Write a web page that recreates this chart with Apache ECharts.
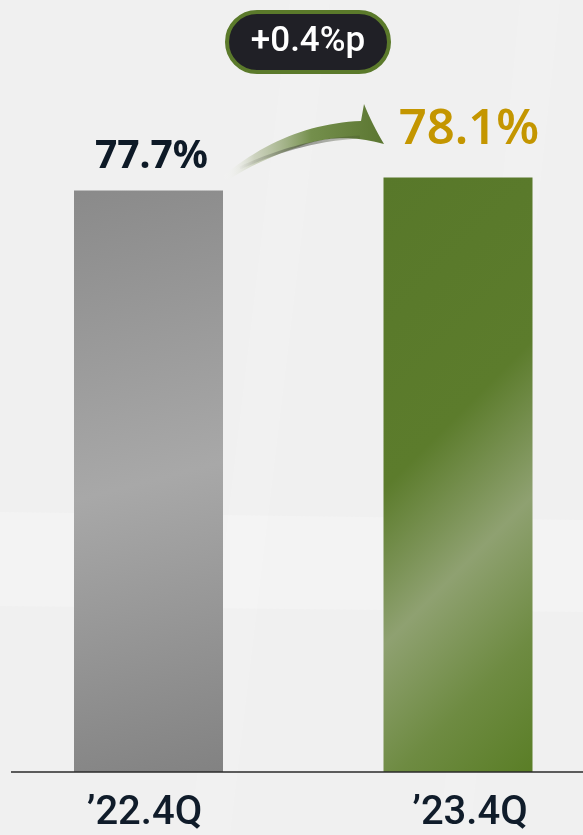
<!DOCTYPE html>
<html>
<head>
<meta charset="utf-8">
<script src="https://cdn.jsdelivr.net/npm/echarts@6/dist/echarts.min.js"></script>
<style>
html,body{margin:0;padding:0;background:#f0f0f0;}
#c{width:583px;height:835px;}
</style>
</head>
<body>
<div id="c"></div>
<script>
// ---- data ----
const categories = ['\u201922.4Q', '\u201923.4Q'];
const values = [77.7, 78.1];
const valueSuffix = '%';
const changeSuffix = '%p';

const chart = echarts.init(document.getElementById('c'), null, {renderer: 'canvas'});

const FONT = 'Noto Sans';
const FONT2 = 'Roboto';

const grayGrad = {
  type: 'linear', x: 0, y: 0, x2: 1, y2: 1,
  colorStops: [
    {offset: 0, color: '#8a8a8a'},
    {offset: 0.5, color: '#a8a8a8'},
    {offset: 1, color: '#828282'}
  ]
};
const greenGrad = {
  type: 'linear', global: true, x: 383, y: 177, x2: 755, y2: 549,
  colorStops: [
    {offset: 0, color: '#58782a'},
    {offset: 0.42, color: '#5c7c2c'},
    {offset: 0.63, color: '#8fa171'},
    {offset: 0.82, color: '#6e8b42'},
    {offset: 1, color: '#5a7e26'}
  ]
};

const labelStyles = [
  {fontSize: 39, fontWeight: 'bold', color: '#0e1a27', distance: 14, offset: [3, 0]},
  {fontSize: 49, fontWeight: 600, color: '#c49600', distance: 23, offset: [11, 0]}
];
const barColors = [grayGrad, greenGrad];
const axisRich = ['a', 'b'];

const diff = (values[1] - values[0]).toFixed(1);
const diffText = (diff >= 0 ? '+' : '') + diff + changeSuffix;

// quadratic bezier sampler for the decorative arrow outline
function quad(p0, p1, p2, n) {
  const pts = [];
  for (let k = 0; k <= n; k++) {
    const t = k / n, u = 1 - t;
    pts.push([u * u * p0[0] + 2 * u * t * p1[0] + t * t * p2[0],
              u * u * p0[1] + 2 * u * t * p1[1] + t * t * p2[1]]);
  }
  return pts;
}
const arrowPts = [].concat(
  quad([222, 177], [285, 124], [361, 121], 24),
  [[364, 104]],
  quad([364, 104], [372, 124], [384, 144], 8).slice(1),
  quad([384, 144], [338, 131], [298, 147], 10).slice(1),
  quad([298, 147], [255, 162], [228, 180], 10).slice(1)
);
const shadowPts = quad([240, 168], [300, 140], [360, 137], 24);

const option = {
  backgroundColor: '#f0f0f0',
  animation: false,
  grid: {left: -6.25, width: 619, top: 115, bottom: 63, containLabel: false, outerBoundsMode: 'none'},
  xAxis: {
    type: 'category',
    data: categories,
    axisLine: {show: false},
    axisTick: {show: false},
    axisLabel: {
      margin: 22,
      fontFamily: FONT2,
      fontSize: 40,
      color: '#101c2a',
      formatter: function (v, i) { return '{' + axisRich[i] + '|' + v + '}'; },
      rich: {
        a: {fontFamily: FONT2, fontSize: 40, color: '#101c2a', fontWeight: 500, padding: [0, 8, 0, 0]},
        b: {fontFamily: FONT2, fontSize: 40, color: '#101c2a', fontWeight: 500, padding: [0, 0, 0, 24]}
      }
    }
  },
  yAxis: {type: 'value', min: 60, max: 80, show: false},
  series: [{
    type: 'bar',
    barWidth: 149,
    z: 5,
    data: values.map((v, i) => ({
      value: v,
      itemStyle: {color: barColors[i]},
      label: {
        show: true,
        position: 'top',
        formatter: v.toFixed(1) + valueSuffix,
        fontFamily: FONT,
        fontSize: labelStyles[i].fontSize,
        fontWeight: labelStyles[i].fontWeight,
        color: labelStyles[i].color,
        distance: labelStyles[i].distance,
        offset: labelStyles[i].offset
      }
    }))
  }],
  graphic: [
    // subtle background bands
    {type: 'polygon', z: -10, silent: true, shape: {points: [[0, 512], [583, 520], [583, 612], [0, 606]]}, style: {fill: '#f3f3f3'}},
    {type: 'polygon', z: -9, silent: true, shape: {points: [[290, 0], [330, 0], [230, 835], [190, 835]]}, style: {fill: 'rgba(255,255,255,0.12)'}},
    {type: 'polygon', z: -9, silent: true, shape: {points: [[520, 0], [560, 0], [470, 835], [440, 835]]}, style: {fill: 'rgba(255,255,255,0.12)'}},
    // baseline
    {type: 'line', z: 10, silent: true, shape: {x1: 11, y1: 772, x2: 583, y2: 772}, style: {stroke: '#2a2a2a', lineWidth: 1.5}},
    // curved arrow
    {
      type: 'polygon', z: 10, silent: true,
      shape: {points: arrowPts},
      style: {
        fill: {
          type: 'linear', x: 0, y: 0, x2: 1, y2: 0,
          colorStops: [
            {offset: 0, color: 'rgba(255,255,255,0)'},
            {offset: 0.2, color: 'rgba(190,198,170,0.7)'},
            {offset: 0.55, color: '#748f4c'},
            {offset: 1, color: '#5b7631'}
          ]
        }
      }
    },
    {
      type: 'polyline', z: 11, silent: true,
      shape: {points: shadowPts},
      style: {
        lineWidth: 3,
        stroke: {
          type: 'linear', x: 0, y: 0, x2: 1, y2: 0,
          colorStops: [
            {offset: 0, color: 'rgba(80,80,80,0)'},
            {offset: 0.5, color: 'rgba(70,72,65,0.55)'},
            {offset: 1, color: 'rgba(60,70,40,0.2)'}
          ]
        }
      }
    },
    // change badge
    {
      type: 'rect', z: 12, silent: true,
      shape: {x: 227, y: 12, width: 162, height: 60, r: 30},
      style: {fill: '#202026', stroke: '#5b7a2b', lineWidth: 4}
    },
    {
      type: 'text', z: 13, silent: true,
      x: 308, y: 42,
      style: {
        text: diffText,
        fontFamily: FONT2, fontSize: 35, fontWeight: 500,
        fill: '#ffffff', align: 'center', verticalAlign: 'middle'
      }
    }
  ]
};
chart.setOption(option);
</script>
</body>
</html>
